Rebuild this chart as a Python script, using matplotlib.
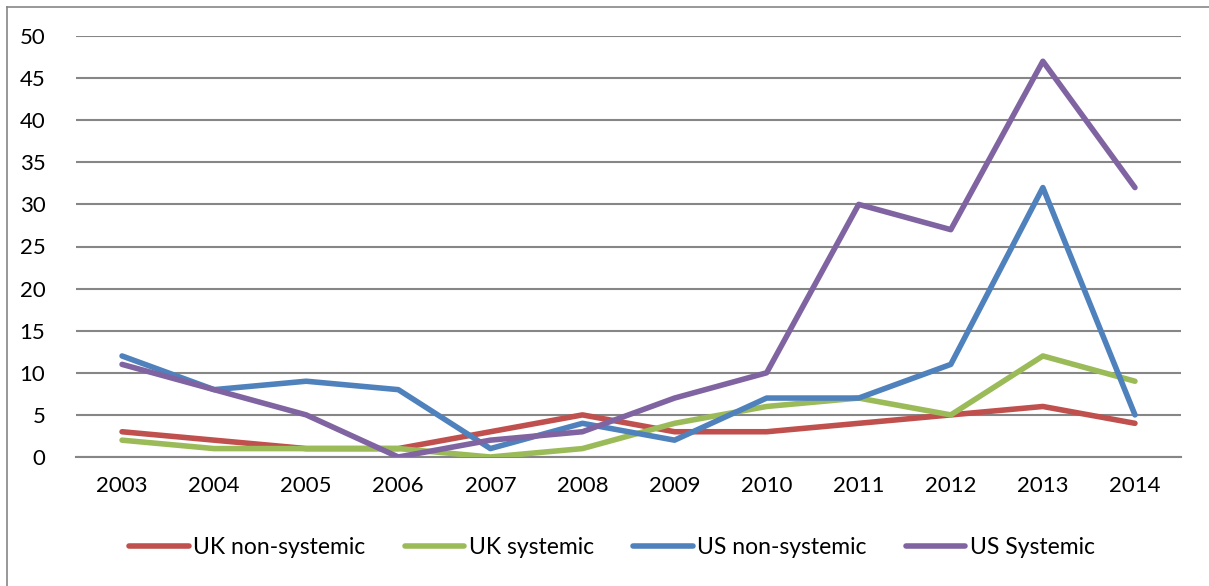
import matplotlib
matplotlib.use("Agg")
import matplotlib.pyplot as plt
from matplotlib.lines import Line2D

years = ["2003", "2004", "2005", "2006", "2007", "2008",
         "2009", "2010", "2011", "2012", "2013", "2014"]
uk_non_systemic = [3, 2, 1, 1, 3, 5, 3, 3, 4, 5, 6, 4]
uk_systemic = [2, 1, 1, 1, 0, 1, 4, 6, 7, 5, 12, 9]
us_non_systemic = [12, 8, 9, 8, 1, 4, 2, 7, 7, 11, 32, 5]
us_systemic = [11, 8, 5, 0, 2, 3, 7, 10, 30, 27, 47, 32]

series = [
    ("UK non-systemic", uk_non_systemic, "#C0504D"),
    ("UK systemic", uk_systemic, "#9BBB59"),
    ("US non-systemic", us_non_systemic, "#4F81BD"),
    ("US Systemic", us_systemic, "#8064A2"),
]

plt.rcParams["font.family"] = ["Lato", "DejaVu Sans"]

fig = plt.figure(figsize=(12.09, 5.86), dpi=100)
ax = fig.add_axes([76 / 1209, 1 - 457 / 586, (1181 - 76) / 1209, (457 - 36) / 586])

x = list(range(len(years)))
for name, vals, color in series:
    ax.plot(x, vals, color=color, lw=4, label=name,
            solid_capstyle="round", solid_joinstyle="round", zorder=3)

ax.set_xlim(-0.5, len(years) - 0.5)
ax.set_ylim(0, 50)
ax.set_yticks(range(0, 51, 5))
ax.set_xticks(x)
ax.set_xticklabels(years)
ax.grid(axis="y", color="#868686", lw=1.5, zorder=1)
ax.set_axisbelow(True)
for side in ["top", "right", "left"]:
    ax.spines[side].set_visible(False)
ax.spines["bottom"].set_color("#868686")
ax.spines["bottom"].set_linewidth(1.5)
ax.tick_params(axis="both", length=0, labelsize=16, colors="black")
ax.tick_params(axis="y", pad=22)
ax.tick_params(axis="x", pad=14)

# frame around the chart area (left and top edges)
fig.add_artist(Line2D([7 / 1209, 7 / 1209], [0, 1 - 7 / 586], color="#868686", lw=1.2))
fig.add_artist(Line2D([7 / 1209, 1], [1 - 7 / 586, 1 - 7 / 586], color="#868686", lw=1.2))

handles = [Line2D([0], [0], color=c, lw=4, solid_capstyle="round") for _, _, c in series]
fig.legend(handles, [s[0] for s in series], loc="center", bbox_to_anchor=(612 / 1209, 1 - 548 / 586),
           ncol=4, frameon=False, fontsize=16.5, handlelength=2.6, handletextpad=0.2,
           columnspacing=1.7)

fig.savefig("out.png", dpi=100)
